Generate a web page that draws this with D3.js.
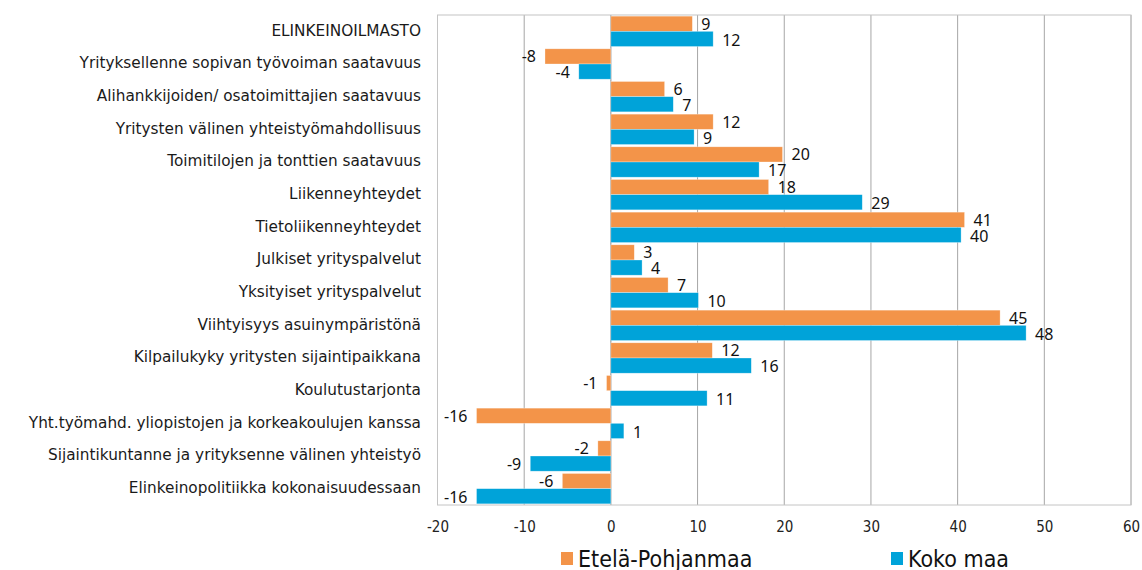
<!DOCTYPE html>
<html>
<head>
<meta charset="utf-8">
<script src="https://cdn.jsdelivr.net/npm/d3@7"></script>
<style>
  body { margin: 0; background: #fff; }
  .cat { font-family: "DejaVu Sans", sans-serif; font-size: 15.3px; fill: #1a1a1a; }
  .val { font-family: "Noto Sans", sans-serif; font-size: 16px; fill: #111; }
  .tick text { font-family: "DejaVu Sans Condensed", sans-serif; font-size: 15px; fill: #222; }
  .leg { font-family: "DejaVu Sans Condensed", sans-serif; font-size: 23px; fill: #111; }
</style>
</head>
<body>
<div id="chart"></div>
<script>
// Categories, top to bottom
const categories = [
  'ELINKEINOILMASTO',
  'Yrityksellenne sopivan työvoiman saatavuus',
  'Alihankkijoiden/ osatoimittajien saatavuus',
  'Yritysten välinen yhteistyömahdollisuus',
  'Toimitilojen ja tonttien saatavuus',
  'Liikenneyhteydet',
  'Tietoliikenneyhteydet',
  'Julkiset yrityspalvelut',
  'Yksityiset yrityspalvelut',
  'Viihtyisyys asuinympäristönä',
  'Kilpailukyky yritysten sijaintipaikkana',
  'Koulutustarjonta',
  'Yht.työmahd. yliopistojen ja korkeakoulujen kanssa',
  'Sijaintikuntanne ja yrityksenne välinen yhteistyö',
  'Elinkeinopolitiikka kokonaisuudessaan'
]

// Series values (bar lengths)
const etelaPohjanmaa = [9.4, -7.6, 6.2, 11.8, 19.8, 18.2, 40.8, 2.7, 6.6, 44.9, 11.7, -0.5, -15.5, -1.5, -5.6]
const kokoMaa = [11.8, -3.7, 7.2, 9.6, 17.1, 29.0, 40.4, 3.6, 10.1, 47.9, 16.2, 11.1, 1.5, -9.3, -15.5]

// Printed labels
const etelaLabels = [9, -8, 6, 12, 20, 18, 41, 3, 7, 45, 12, -1, -16, -2, -6]
const kokoLabels = [12, -4, 7, 9, 17, 29, 40, 4, 10, 48, 16, 11, 1, -9, -16]

const seriesNames = ['Etelä-Pohjanmaa', 'Koko maa']
const colors = ['#F39449', '#00A3D9']
const xTicks = [-20, -10, 0, 10, 20, 30, 40, 50, 60]

var width = 1142
var height = 570
var plot = { left: 437.5, right: 1131, top: 15, bottom: 505 }

const rows = categories.map((c, i) => ({
  cat: c,
  vals: [
    { s: 0, v: etelaPohjanmaa[i], label: etelaLabels[i] },
    { s: 1, v: kokoMaa[i], label: kokoLabels[i] }
  ]
}))

const xScale = d3.scaleLinear()
  .domain([-20, 60])
  .range([plot.left, plot.right])

const yScale = d3.scaleBand()
  .domain(categories)
  .range([plot.top, plot.bottom])
  .paddingInner(0.07)
  .paddingOuter(0.035)

const ySub = d3.scaleBand()
  .domain([0, 1])
  .range([0, yScale.bandwidth()])

var svg = d3.select('#chart')
  .append('svg')
  .attr('width', width)
  .attr('height', height)

// grid lines
svg.append('g')
  .selectAll('line')
  .data(xTicks)
  .enter()
  .append('line')
  .attr('x1', (d) => xScale(d))
  .attr('x2', (d) => xScale(d))
  .attr('y1', plot.top)
  .attr('y2', plot.bottom)
  .attr('stroke', (d) => d === 0 ? '#8c8c8c' : '#a6a6a6')
  .attr('stroke-width', 1)

// plot border
svg.append('rect')
  .attr('x', plot.left)
  .attr('y', plot.top)
  .attr('width', plot.right - plot.left)
  .attr('height', plot.bottom - plot.top)
  .attr('fill', 'none')
  .attr('stroke', '#c4c4c4')

// bars
const groups = svg.selectAll('.grp')
  .data(rows)
  .enter()
  .append('g')
  .attr('class', 'grp')
  .attr('transform', (d) => `translate(0, ${yScale(d.cat)})`)

groups.selectAll('rect')
  .data((d) => d.vals)
  .enter()
  .append('rect')
  .attr('x', (d) => xScale(Math.min(0, d.v)))
  .attr('width', (d) => Math.abs(xScale(d.v) - xScale(0)))
  .attr('y', (d) => ySub(d.s))
  .attr('height', ySub.bandwidth())
  .attr('fill', (d) => colors[d.s])
  .attr('stroke', '#ffffff')
  .attr('stroke-opacity', 0.5)
  .attr('stroke-width', 0.6)

// value labels
groups.selectAll('text')
  .data((d) => d.vals)
  .enter()
  .append('text')
  .attr('class', 'val')
  .attr('x', (d) => d.v >= 0 ? xScale(d.v) + 9 : xScale(d.v) - 9)
  .attr('y', (d) => ySub(d.s) + ySub.bandwidth() / 2 + (d.s === 1 ? 1 : 0))
  .attr('dy', '0.36em')
  .attr('text-anchor', (d) => d.v >= 0 ? 'start' : 'end')
  .text((d) => d.label)

// category labels
svg.append('g')
  .selectAll('text')
  .data(categories)
  .enter()
  .append('text')
  .attr('class', 'cat')
  .attr('x', 421)
  .attr('y', (d) => yScale(d) + yScale.bandwidth() / 2 - 1)
  .attr('dy', '0.35em')
  .attr('text-anchor', 'end')
  .text((d) => d)

// x axis
const xAxis = d3.axisBottom(xScale)
  .tickValues(xTicks)
  .tickFormat((d) => String(d))
  .tickSize(0)
  .tickPadding(16)

svg.append('g')
  .attr('transform', `translate(0, ${plot.bottom})`)
  .call(xAxis)
  .call((g) => g.select('.domain').remove())

// legend
const legX = [561, 891]
const legend = svg.append('g')
  .selectAll('g')
  .data(seriesNames)
  .enter()
  .append('g')
  .attr('transform', (d, i) => `translate(${legX[i]}, 552)`)

legend.append('rect')
  .attr('width', 12)
  .attr('height', 13)
  .attr('fill', (d, i) => colors[i])

legend.append('text')
  .attr('class', 'leg')
  .attr('x', 17)
  .attr('y', 14.5)
  .text((d) => d)
</script>
</body>
</html>
